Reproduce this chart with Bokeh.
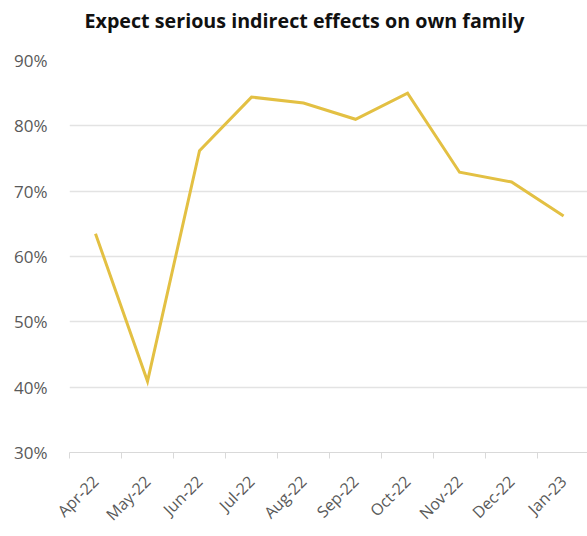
from bokeh.plotting import figure
from bokeh.models import ColumnDataSource, FixedTicker, Range1d, Title
from bokeh.embed import file_html
from bokeh.resources import INLINE

# Monthly share (%) expecting serious indirect effects on own family
months = ["Apr-22", "May-22", "Jun-22", "Jul-22", "Aug-22",
          "Sep-22", "Oct-22", "Nov-22", "Dec-22", "Jan-23"]
share = [63.5, 40.9, 76.2, 84.4, 83.5, 81.0, 85.0, 72.9, 71.4, 66.2]
y_ticks = [30, 40, 50, 60, 70, 80, 90]
y_labels = ["30%", "40%", "50%", "60%", "70%", "80%", "90%"]
title_text = "Expect serious indirect effects on own family"

idx = list(range(len(months)))
src = ColumnDataSource(data=dict(x=idx, y=share))

p = figure(width=587, height=536, output_backend="svg", toolbar_location=None,
           x_range=Range1d(-0.5, len(months) - 0.5 - 0.04), y_range=Range1d(30, 90),
           min_border_left=69, min_border_right=0, min_border_top=60, min_border_bottom=84)

p.line("x", "y", source=src, line_color="#E3C043", line_width=3, line_join="miter")

# blank spacer next to the frame, heading stacked above it
spacer = Title(text=" ", text_font_size="2px", standoff=17)
heading = Title(text=title_text, text_font="Open Sans", text_font_size="19.7px",
                text_font_style="bold", text_color="#111111", align="left",
                offset=15, standoff=10, vertical_align="middle")
p.add_layout(spacer, "above")
p.add_layout(heading, "above")

# y axis: gridlines only, percent labels
p.yaxis.ticker = FixedTicker(ticks=y_ticks)
p.yaxis.major_label_overrides = {t: s for t, s in zip(y_ticks, y_labels)}
p.yaxis.axis_line_color = None
p.yaxis.major_tick_line_color = None
p.yaxis.minor_tick_line_color = None
p.yaxis.major_label_text_font = "Open Sans"
p.yaxis.major_label_text_font_size = "17px"
p.yaxis.major_label_text_color = "#595959"
p.yaxis.major_label_standoff = 16

# x axis: labels at month centres, small ticks at band boundaries
p.xaxis.ticker = FixedTicker(ticks=idx, minor_ticks=[i + 0.5 for i in idx[:-1]] + [-0.5])
p.xaxis.major_label_overrides = {i: m for i, m in zip(idx, months)}
p.xaxis.major_label_orientation = 0.785398
p.xaxis.major_tick_line_color = None
p.xaxis.minor_tick_line_color = "#d9d9d9"
p.xaxis.minor_tick_out = 6
p.xaxis.minor_tick_in = 0
p.xaxis.axis_line_color = "#d9d9d9"
p.xaxis.axis_line_width = 1
p.xaxis.major_label_text_font = "Open Sans"
p.xaxis.major_label_text_font_size = "16px"
p.xaxis.major_label_text_color = "#595959"
p.xaxis.major_label_standoff = 20

p.xgrid.grid_line_color = None
p.ygrid.grid_line_color = "#e3e3e3"
p.ygrid.grid_line_width = 1.5
p.outline_line_color = None

open("out.html", "w").write(file_html(p, INLINE))
